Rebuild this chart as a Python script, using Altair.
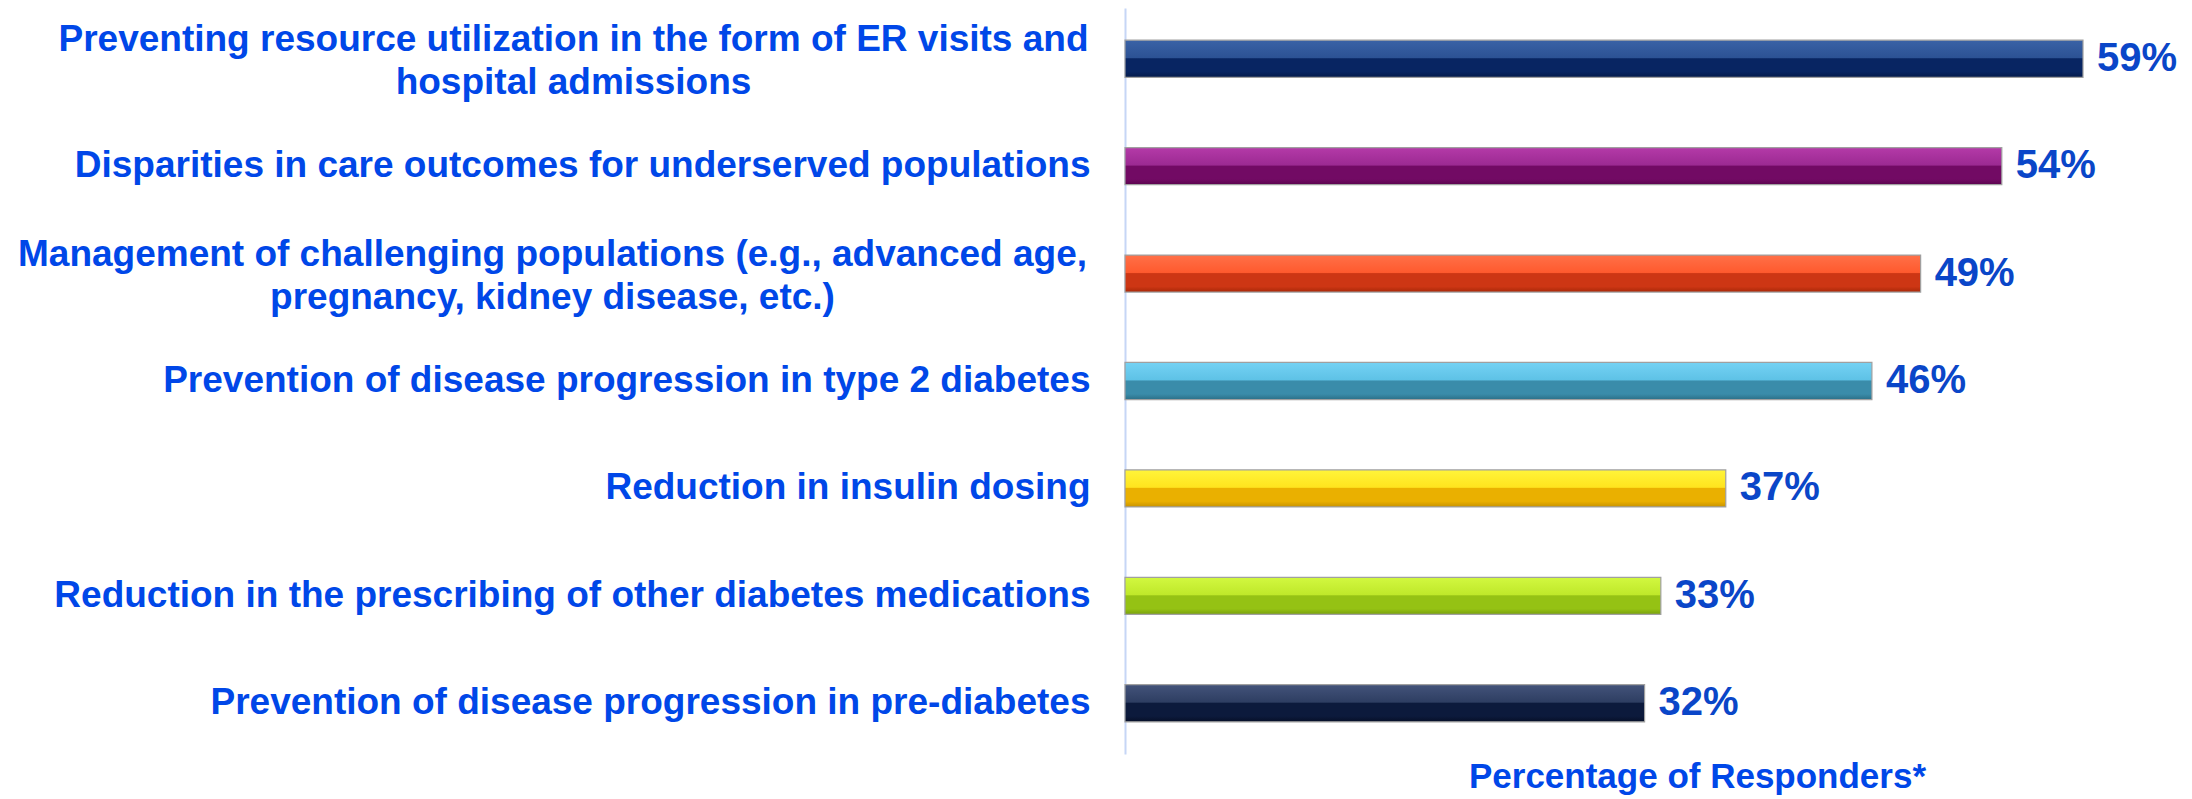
import altair as alt
import pandas as pd

categories = [
    "Preventing resource utilization in the form of ER visits and\nhospital admissions",
    "Disparities in care outcomes for underserved populations",
    "Management of challenging populations (e.g., advanced age,\npregnancy, kidney disease, etc.)",
    "Prevention of disease progression in type 2 diabetes",
    "Reduction in insulin dosing",
    "Reduction in the prescribing of other diabetes medications",
    "Prevention of disease progression in pre-diabetes",
]
values = [59, 54, 49, 46, 37, 33, 32]
value_labels = ["59%", "54%", "49%", "46%", "37%", "33%", "32%"]

top_colors = ["#3A62A6", "#B43AA8", "#FF7048", "#74D2F4", "#FFF43A", "#D2F840", "#43537A"]
upper_colors = ["#2C5294", "#9C2A92", "#FF5A2E", "#5EC2E6", "#FFE41E", "#BFE82A", "#2E3E62"]
lower_colors = ["#082562", "#720A64", "#CD3614", "#3A8CAA", "#EAB000", "#95C214", "#0C1A3C"]
bottom_colors = ["#041A4A", "#5A044E", "#A82808", "#2C7088", "#C89200", "#78A00C", "#060F28"]

df = pd.DataFrame({
    "idx": list(range(len(categories))),
    "category": categories,
    "value": values,
    "label": value_labels,
})

FONT = "Liberation Sans"
LABEL_BLUE = "#0047E8"
VALUE_BLUE = "#0A46C8"

MULTI = "indexof(datum.label, '\\n') >= 0"

base = alt.Chart(df).encode(
    y=alt.Y(
        "category:N",
        sort=categories,
        scale=alt.Scale(paddingInner=0.655, paddingOuter=0.30),
        axis=alt.Axis(
            title=None,
            labelExpr="split(datum.label, '\\n')",
            labelFont=FONT,
            labelFontWeight="bold",
            labelFontSize=37,
            labelColor=LABEL_BLUE,
            labelLimit=1400,
            labelPadding={
                "condition": [
                    {"test": "indexof(datum.label, 'hospital') >= 0", "value": 552},
                    {"test": "indexof(datum.label, 'pregnancy') >= 0", "value": 573},
                ],
                "value": 35,
            },
            labelAlign={"condition": {"test": MULTI, "value": "center"}, "value": "right"},
            labelOffset={"condition": {"test": MULTI, "value": -19}, "value": 0},
            labelLineHeight=43,
            ticks=False,
            grid=False,
            domainColor="#C6D6F6",
            domainWidth=2,
        ),
    ),
    x=alt.X(
        "value:Q",
        scale=alt.Scale(domain=[0, max(values)], nice=False, zero=True),
        axis=alt.Axis(
            title="Percentage of Responders*",
            labels=False,
            ticks=False,
            domain=False,
            grid=False,
            titleFont=FONT,
            titleFontWeight="bold",
            titleFontSize=35,
            titleColor=LABEL_BLUE,
            titleX=572,
            titleAlign="center",
            titlePadding=5,
        ),
    ),
)

layers = []
for i in range(len(categories)):
    grad = alt.Gradient(
        gradient="linear",
        x1=0, x2=0, y1=0, y2=1,
        stops=[
            alt.GradientStop(color=top_colors[i], offset=0),
            alt.GradientStop(color=upper_colors[i], offset=0.47),
            alt.GradientStop(color=lower_colors[i], offset=0.5),
            alt.GradientStop(color=lower_colors[i], offset=0.85),
            alt.GradientStop(color=bottom_colors[i], offset=1),
        ],
    )
    layers.append(
        base.transform_filter(alt.datum.idx == i).mark_bar(
            fill=grad, stroke="#A0A0A0", strokeWidth=1.2
        )
    )

text = base.mark_text(
    align="left",
    baseline="middle",
    dx=14,
    font=FONT,
    fontWeight="bold",
    fontSize=40,
    color=VALUE_BLUE,
).encode(text="label:N")

chart = (
    alt.layer(*layers, text)
    .properties(
        width=958,
        height=746,
        autosize=alt.AutoSizeParams(type="none"),
        padding={"left": 1117, "top": 0, "right": 101, "bottom": 45},
        background="white",
    )
    .configure_view(stroke=None)
)

chart.save("out.html", embed_options={"renderer": "svg", "actions": False})
